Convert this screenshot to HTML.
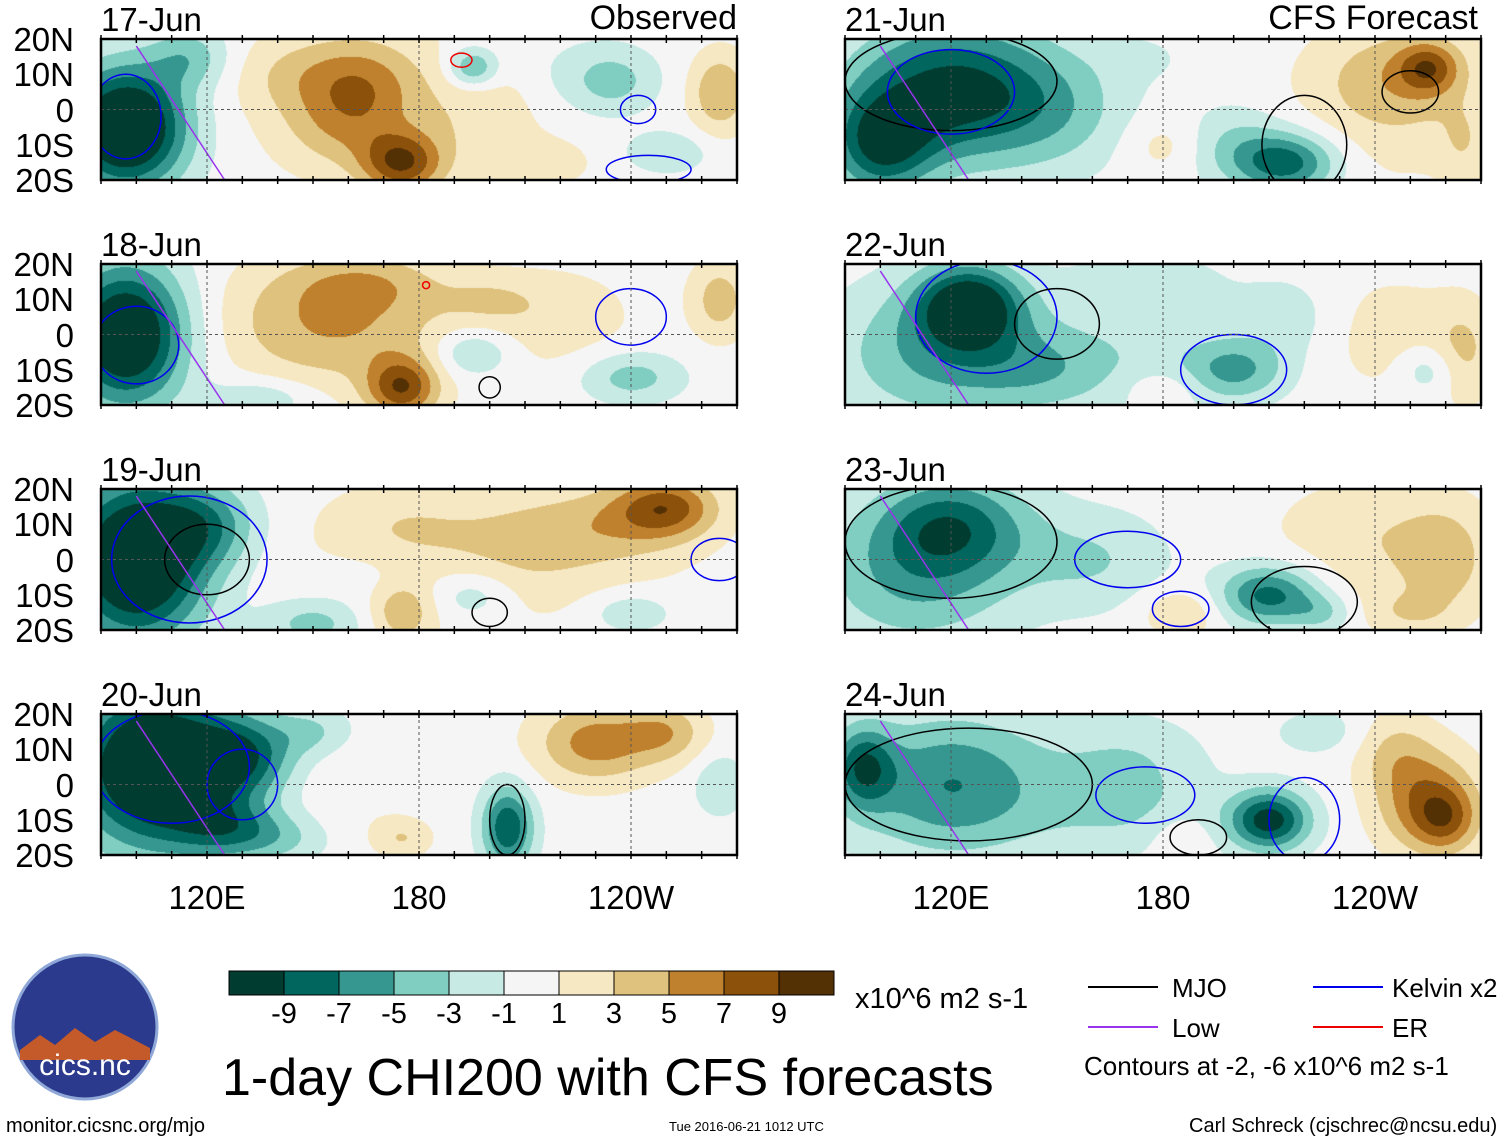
<!DOCTYPE html>
<html><head><meta charset="utf-8">
<style>
body{margin:0;background:#fff;width:1510px;height:1142px;position:relative;overflow:hidden;font-family:"Liberation Sans",sans-serif;color:#000}
.t{position:absolute;white-space:nowrap;line-height:1}
canvas{position:absolute}
svg{position:absolute;left:0;top:0}
</style></head><body>
<svg id="ov" width="1510" height="1142"></svg>
<div class="t" style="left:6px;top:1116px;font-size:20px">monitor.cicsnc.org/mjo</div>
<div class="t" style="left:669px;top:1120px;font-size:13px">Tue 2016-06-21 1012 UTC</div>
<div class="t" style="left:1189px;top:1116px;font-size:20px">Carl Schreck (cjschrec@ncsu.edu)</div>
<div class="t" style="left:222px;top:1052px;font-size:52px">1-day CHI200 with CFS forecasts</div>
<div class="t" style="left:855px;top:985px;font-size:29px">x10^6 m2 s-1</div>
<div class="t" style="left:1172px;top:975px;font-size:26px">MJO</div>
<div class="t" style="left:1172px;top:1015px;font-size:26px">Low</div>
<div class="t" style="left:1392px;top:975px;font-size:26px">Kelvin x2</div>
<div class="t" style="left:1392px;top:1015px;font-size:26px">ER</div>
<div class="t" style="left:1084px;top:1053px;font-size:26px">Contours at -2, -6 x10^6 m2 s-1</div>
<div id="lbls"></div>
<script>
const colors=["#003c30","#01665e","#35978f","#80cdc1","#c7eae5","#f5f5f5","#f6e8c3","#dfc27d","#bf812d","#8c510a","#543005"];
const cbLabels=["-9","-7","-5","-3","-1","1","3","5","7","9"];
const dates=["17-Jun","18-Jun","19-Jun","20-Jun","21-Jun","22-Jun","23-Jun","24-Jun"];
const xTickLons=[120,180,240];
const xTickLabels=["120E","180","120W"];
const latTicks=[20,10,0,-10,-20];
const latLabels=["20N","10N","0","10S","20S"];
// blobs: [lon, lat, amplitude, sigmaLon, sigmaLat]
const blobs0=[[97,-5,-14,12,12],[115,15,-4,8,6],[150,10,3,15,8],[155,-5,2,10,8],[175,-15,8,8,6],[165,5,3,10,10],[170,0,2.5,25,15],[195,12,-6,5,4],[225,10,-1.5,15,8],[235,8,-3,8,6],[265,5,5,6,8],[250,-12,-3,8,4],[215,-15,2,10,5],[200,0,1.5,10,10]];
const blobs1=[[97,0,-13,12,14],[135,-18,-3,10,4],[150,5,3,20,12],[165,0,2.5,25,12],[175,-15,8,7,6],[195,-5,-4,8,5],[165,15,3,15,6],[240,-12,-4,10,5],[265,10,4,6,8],[220,5,2,15,10],[200,10,2,10,5]];
const blobs2=[[100,0,-14,14,16],[120,10,-5,10,8],[150,-18,-4,10,5],[175,-15,4,6,6],[175,10,2,15,8],[200,0,1.5,40,15],[250,15,7,10,6],[235,10,3,15,8],[195,-10,-3,8,5],[240,-15,-3,8,4],[210,5,2,15,10],[165,-5,-1,10,5]];
const blobs3=[[105,5,-14,16,16],[130,8,-7,10,8],[125,-12,-5,10,6],[140,-15,-3,10,5],[175,-15,3,6,4],[205,-12,-9,5,8],[230,12,6,12,8],[250,15,4,8,6],[265,0,-3,5,6],[160,0,1,10,10],[150,15,-3,8,5]];
const blobs4=[[120,5,-10,20,14],[100,-10,-8,10,10],[150,0,-3,15,12],[215,-15,-8,10,6],[200,-10,-3,10,8],[245,0,2,20,15],[245,10,3,15,10],[255,12,6,6,5],[180,-10,2,8,6],[175,15,-1,10,5],[265,-10,2,5,8]];
const blobs5=[[125,8,-11,10,8],[115,-5,-5,20,14],[145,-10,-3,15,8],[170,-5,-2,25,12],[200,-10,-5,10,6],[215,5,-2,10,8],[245,0,2,15,12],[265,-5,3,6,10],[255,-10,-3,6,5],[180,-15,2,8,4],[175,15,-2,15,6]];
const blobs6=[[120,10,-7,15,10],[110,-5,-5,20,14],[210,-10,-8,10,6],[185,-15,3,8,5],[240,10,2,20,10],[245,-5,1.5,20,12],[260,0,3,8,10],[160,0,-3,15,10],[225,-15,-3,6,4],[250,-15,2,8,4]];
const blobs7=[[120,0,-7,20,14],[95,5,-7,6,8],[170,-10,-2,20,8],[210,-10,-10,8,6],[185,-15,2,6,5],[255,-5,7,10,10],[260,-10,4,6,6],[170,5,-3,15,10],[245,10,3,8,8],[225,15,-2,10,5]];
const allBlobs=[blobs0,blobs1,blobs2,blobs3,blobs4,blobs5,blobs6,blobs7];
// contour ellipses: [lon, lat, rLon, rLat, type]
const rings0=[[97,-2,10,12,"j"],[242,0,5,4,"j"],[245,-17,12,4,"j"],[192,14,3,2,"e"]];
const rings1=[[100,-3,12,11,"j"],[240,5,10,8,"j"],[200,-15,3,3,"k"],[182,14,1,1,"e"]];
const rings2=[[115,0,22,18,"j"],[120,0,12,10,"k"],[265,0,8,6,"j"],[200,-15,5,4,"k"]];
const rings3=[[110,5,22,16,"j"],[130,0,10,10,"j"],[205,-10,5,10,"k"]];
const rings4=[[120,8,30,14,"k"],[120,5,18,12,"j"],[220,-10,12,14,"k"],[250,5,8,6,"k"]];
const rings5=[[130,5,20,16,"j"],[150,3,12,10,"k"],[200,-10,15,10,"j"]];
const rings6=[[120,5,30,16,"k"],[170,0,15,8,"j"],[220,-12,15,10,"k"],[185,-14,8,5,"j"]];
const rings7=[[125,0,35,16,"k"],[175,-3,14,8,"j"],[220,-10,10,12,"j"],[190,-15,8,5,"k"]];
const allRings=[rings0,rings1,rings2,rings3,rings4,rings5,rings6,rings7];

const rowsY=[39,264,489,714], H=141;
const colX=[101,845], W=636;
const ns="http://www.w3.org/2000/svg";
const ov=document.getElementById('ov');
const lbl=document.getElementById('lbls');
function xOf(c,lon){return colX[c]+(lon-90)/180*W;}
function yOf(r,lat){return rowsY[r]+(20-lat)/40*H;}
function el(tag,attrs){const e=document.createElementNS(ns,tag);for(const k in attrs)e.setAttribute(k,attrs[k]);ov.appendChild(e);return e;}
function txt(s,l,t,fs,name,align){const d=document.createElement('div');d.className='t';d.textContent=s;d.style.fontSize=fs+'px';d.style.top=t+'px';
 if(align==='r'){d.style.right=(1510-l)+'px';}else if(align==='c'){d.style.left=(l-100)+'px';d.style.width='200px';d.style.textAlign='center';}else d.style.left=l+'px';
 
 
 lbl.appendChild(d);}
const hex=colors.map(h=>[parseInt(h.slice(1,3),16),parseInt(h.slice(3,5),16),parseInt(h.slice(5,7),16)]);
for(let p=0;p<8;p++){
 const c=p<4?0:1, r=p%4;
 const cv=document.createElement('canvas');cv.width=W;cv.height=H;
 cv.style.left=colX[c]+'px';cv.style.top=rowsY[r]+'px';
 
 
 document.body.insertBefore(cv,ov);
 const ctx=cv.getContext('2d');const img=ctx.createImageData(W,H);const b=allBlobs[p];
 for(let j=0;j<H;j++){const lat=20-j/H*40;for(let i=0;i<W;i++){const lon=90+i/W*180;let v=0;
  for(const q of b){const dx=(lon-q[0])/q[3],dy=(lat-q[1])/q[4];v+=q[2]*Math.exp(-0.5*(dx*dx+dy*dy));}
  let k=Math.floor((v+11)/2);k=Math.max(0,Math.min(10,k));const o=(j*W+i)*4;img.data[o]=hex[k][0];img.data[o+1]=hex[k][1];img.data[o+2]=hex[k][2];img.data[o+3]=255;}}
 ctx.putImageData(img,0,0);
 const cp=el('clipPath',{id:'clip'+p});const cr=document.createElementNS(ns,'rect');cr.setAttribute('x',colX[c]);cr.setAttribute('y',rowsY[r]);cr.setAttribute('width',W);cr.setAttribute('height',H);cp.appendChild(cr);
 const cmap={k:"#000",j:"#0000ee",m:"#9933ee",e:"#ee0000"};
 for(const g of allRings[p]){const x1=xOf(c,g[0]-g[2]),x2=xOf(c,g[0]+g[2]),y1=yOf(r,g[1]+g[3]),y2=yOf(r,g[1]-g[3]);
  const e=el('ellipse',{cx:xOf(c,g[0]),cy:yOf(r,g[1]),rx:(x2-x1)/2,ry:(y2-y1)/2,fill:'none',stroke:cmap[g[4]],'stroke-width':1.5,'clip-path':'url(#clip'+p+')'});
  
  }
 const pl=el('line',{x1:xOf(c,100),y1:yOf(r,18),x2:xOf(c,125),y2:yOf(r,-20),stroke:'#9933ee','stroke-width':1.5});
 
 
 for(const lon of xTickLons){const g=el('line',{x1:xOf(c,lon),x2:xOf(c,lon),y1:rowsY[r],y2:rowsY[r]+H,stroke:'#555','stroke-dasharray':'3,3','stroke-width':1});}
 const eq=el('line',{x1:colX[c],x2:colX[c]+W,y1:yOf(r,0),y2:yOf(r,0),stroke:'#555','stroke-dasharray':'3,3','stroke-width':1});
 for(let lon=90;lon<=270;lon+=10){el('line',{x1:xOf(c,lon),x2:xOf(c,lon),y1:rowsY[r]-4,y2:rowsY[r]+4,stroke:'#000','stroke-width':1.5});el('line',{x1:xOf(c,lon),x2:xOf(c,lon),y1:rowsY[r]+H-4,y2:rowsY[r]+H+4,stroke:'#000','stroke-width':1.5});}
 const fr=el('rect',{x:colX[c],y:rowsY[r],width:W,height:H,fill:'none',stroke:'#000','stroke-width':2.5});
 
 
 txt(dates[p],colX[c],rowsY[r]-36,33,'panel-date-'+dates[p]);
 if(c===0){latTicks.forEach((lt,k)=>txt(latLabels[k],74,yOf(r,lt)-16,33,'lat-label','r'));}
}
txt('Observed',737,1,34,'observed-label','r');
txt('CFS Forecast',1478,1,34,'forecast-label','r');
for(let c=0;c<2;c++)xTickLons.forEach((lon,k)=>txt(xTickLabels[k],xOf(c,lon),881,33,'x-tick-label','c'));
const cbx=229,cby=971,cbw=55,cbh=24;
colors.forEach((col,k)=>{const rc=el('rect',{x:cbx+k*cbw,y:cby,width:cbw,height:cbh,fill:col,stroke:'#000','stroke-width':1});
 
 });
cbLabels.forEach((s,k)=>txt(s,cbx+(k+1)*cbw,1000,29,'colorbar-label','c'));
[[1088,987,'#000'],[1088,1027,'#9933ee'],[1313,987,'#0000ee'],[1313,1027,'#ee0000']].forEach(a=>{const l=el('line',{x1:a[0],x2:a[0]+70,y1:a[1],y2:a[1],stroke:a[2],'stroke-width':2});
 
 });
const lg=el('circle',{cx:85,cy:1027,r:72,fill:'#2b3a8c',stroke:'#8fa8d8','stroke-width':3});


el('path',{d:'M20 1050 L40 1035 L55 1045 L75 1028 L95 1042 L115 1030 L150 1048 L150 1060 L20 1060Z',fill:'#c45a2a'});
const lt=document.createElementNS(ns,'text');lt.setAttribute('x',85);lt.setAttribute('y',1075);lt.setAttribute('text-anchor','middle');lt.setAttribute('font-size','30');lt.setAttribute('fill','#fff');lt.setAttribute('font-family','Liberation Sans, sans-serif');lt.textContent='cics.nc';ov.appendChild(lt);
</script>
</body></html>
